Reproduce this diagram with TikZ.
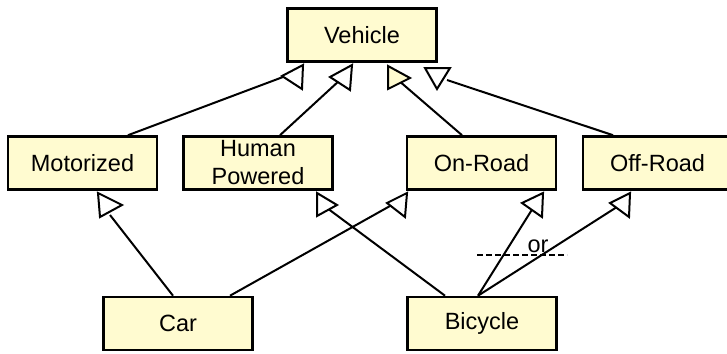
\documentclass[tikz,border=0pt]{standalone}
\usepackage{fontspec}
\setmainfont{Liberation Sans}
\definecolor{boxfill}{RGB}{255,251,208}
\begin{document}
\begin{tikzpicture}[x=1pt,y=-1pt,
  classbox/.style={draw=black,line width=2.6pt,fill=boxfill,minimum width=149pt,
    minimum height=53pt,inner sep=0pt,font=\fontsize{23.5}{28}\selectfont,align=center},
  link/.style={draw=black,line width=2pt},
  head/.style={draw=black,line width=2pt,fill=white,line join=miter},
  orline/.style={draw=black,line width=2pt,dash pattern=on 6pt off 3pt}]
\fill[white] (0,0) rectangle (727,353);
\useasboundingbox (0,0) rectangle (727,353);
\clip (0,0) rectangle (727,353);

% classes
\node[classbox] (veh) at (362,35) {Vehicle};
\node[classbox] (mot) at (82.5,163) {Motorized};
\node[classbox] (hum) at (258,163) {Human\\Powered};
\node[classbox] (onr) at (481.5,163) {On-Road};
\node[classbox] (offr) at (657.5,163) {Off-Road};
\node[classbox] (car) at (178,323.5) {Car};
\node[classbox] (bic) at (482,323.5) {Bicycle};

% ends of the generalization lines
\coordinate (e1) at (283,77);
\coordinate (e2) at (340,80);
\coordinate (e3) at (398,80);
\coordinate (e4) at (447,80);
\coordinate (e5) at (110,215);
\coordinate (e6) at (390,206);
\coordinate (e7) at (327,208);
\coordinate (e8) at (533,208);
\coordinate (e9) at (620,205);

\draw[link] ([xshift=45.5pt]mot.north) -- (e1);
\draw[link] ([xshift=22pt]hum.north) -- (e2);
\draw[link] ([xshift=-19.5pt]onr.north) -- (e3);
\draw[link] ([xshift=-44.5pt]offr.north) -- (e4);
\draw[link] ([xshift=-5pt]car.north) -- (e5);
\draw[link] ([xshift=52pt]car.north) -- (e6);
\draw[link] ([xshift=-37pt]bic.north) -- (e7);
\draw[link] ([xshift=-4pt]bic.north) -- (e8);
\draw[link] ([xshift=-4pt]bic.north) -- (e9);

% hollow triangle heads
\draw[head] (282,76) -- (303,65) -- (302,89) -- cycle;
\draw[head] (330,77) -- (352,65) -- (350,90) -- cycle;
\draw[head,fill=boxfill] (388,66) -- (410,78) -- (388,89) -- cycle;
\draw[head] (425,68) -- (450,68) -- (437,89) -- cycle;
\draw[head] (98,193) -- (122,205) -- (100,217) -- cycle;
\draw[head] (387,203) -- (407,193) -- (405,217) -- cycle;
\draw[head] (317,193) -- (337,205) -- (317,216) -- cycle;
\draw[head] (522,203) -- (543,193) -- (542,217) -- cycle;
\draw[head] (610,203) -- (630,193) -- (629,217) -- cycle;

% alternative marker
\coordinate (orL) at (477,255);
\coordinate (orR) at (567,255);
\draw[orline] (orL) -- (orR);
\node[font=\fontsize{23.5}{28}\selectfont,inner sep=0pt,anchor=base] (or) at (538,252) {or};
\end{tikzpicture}
\end{document}
